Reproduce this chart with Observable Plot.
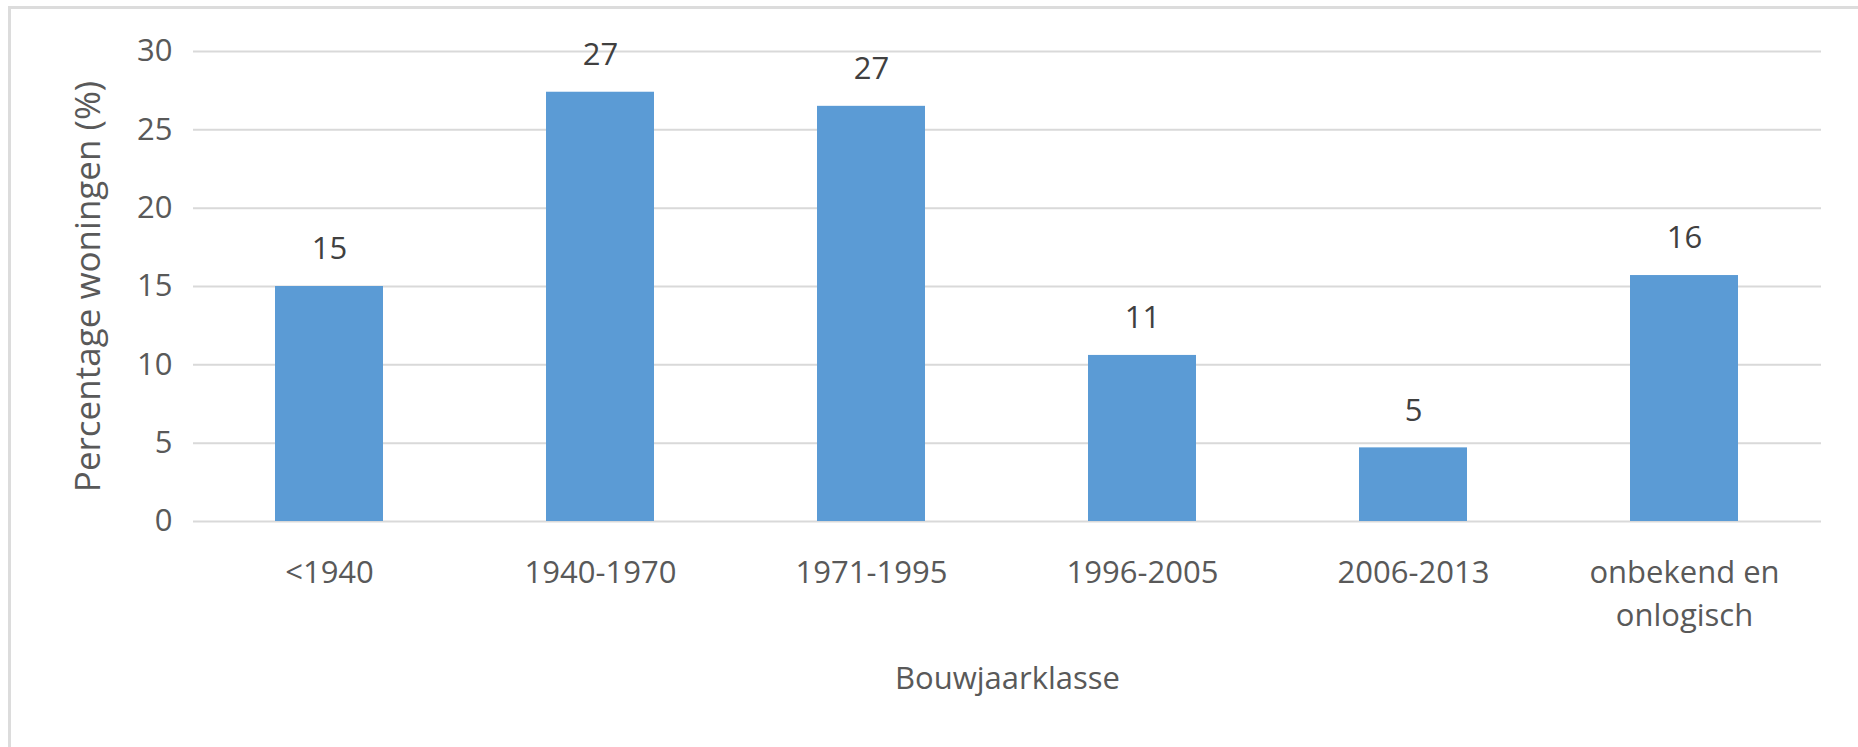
<!DOCTYPE html>
<html>
<head>
<meta charset="utf-8">
<script src="https://cdn.jsdelivr.net/npm/d3@7"></script>
<script src="https://cdn.jsdelivr.net/npm/@observablehq/plot@0.6"></script>
<style>
  html, body { margin: 0; padding: 0; background: #fff; }
  #wrap { position: relative; width: 1858px; height: 747px; overflow: hidden; }
  #border { position: absolute; left: 8px; top: 6px; width: 1860px; height: 760px;
            border-top: 3px solid #dcdcdc; border-left: 3px solid #dcdcdc; box-sizing: border-box; pointer-events: none; }
  svg { display: block; }
</style>
</head>
<body>
<div id="wrap"><div id="border"></div></div>
<script>
const categories = ["<1940", "1940-1970", "1971-1995", "1996-2005", "2006-2013", "onbekend en\nonlogisch"];
const values = [15.0, 27.4, 26.5, 10.6, 4.7, 15.7];
const valueLabels = ["15", "27", "27", "11", "5", "16"];
const yTicks = [0, 5, 10, 15, 20, 25, 30];
const yLabel = "Percentage woningen (%)";
const xLabel = "Bouwjaarklasse";

const data = categories.map((c, i) => ({cat: c, value: values[i], label: valueLabels[i]}));

const chart = Plot.plot({
  width: 1858,
  height: 747,
  marginTop: 51,
  marginBottom: 226,
  marginLeft: 193,
  marginRight: 37,
  style: {fontFamily: "'Open Sans', sans-serif", fontSize: "31px", background: "transparent", color: "#595959"},
  x: {domain: categories, paddingInner: 0.6, paddingOuter: 0.3, label: null},
  y: {domain: [0, 30], label: null},
  marks: [
    Plot.gridY(yTicks, {stroke: "#d9d9d9", strokeOpacity: 1, strokeWidth: 2}),
    Plot.barY(data, {x: "cat", y: "value", fill: "#5B9BD5"}),
    Plot.text(data, {x: "cat", y: "value", text: "label", dy: -37, fill: "#404040", fontSize: 31}),
    Plot.axisY(yTicks, {tickSize: 0, tickPadding: 21, color: "#595959", fontSize: 31, label: null}),
    Plot.axisY({ticks: [], tickSize: 0, color: "#595959", fontSize: 35,
      label: yLabel, labelAnchor: "center", labelArrow: "none", labelOffset: 118}),
    Plot.axisX({tickSize: 0, tickPadding: 32, lineHeight: 1.36, color: "#595959", fontSize: 31,
      label: xLabel, labelAnchor: "center", labelArrow: "none", labelOffset: 167})
  ]
});
document.getElementById("wrap").prepend(chart);
</script>
</body>
</html>
